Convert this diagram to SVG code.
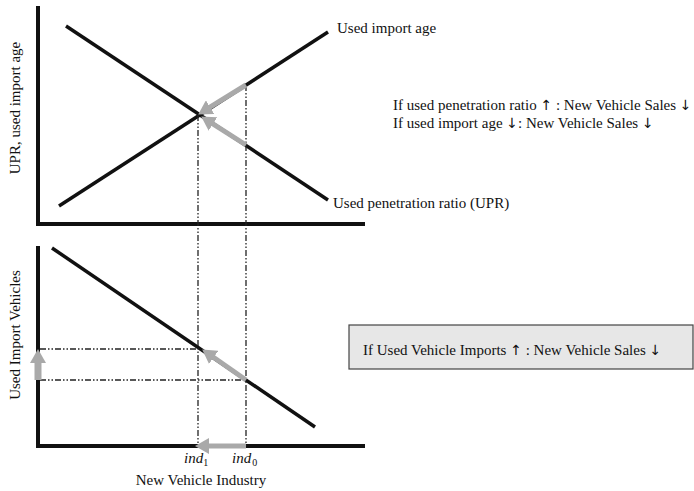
<svg xmlns="http://www.w3.org/2000/svg" width="694" height="491" viewBox="0 0 694 491">
<defs>
<marker id="gh" markerUnits="userSpaceOnUse" markerWidth="15" markerHeight="16" refX="2" refY="8" orient="auto" viewBox="0 0 15 16">
<path d="M0,0 L14,8 L0,16 z" fill="#a9a9a9"/>
</marker>
<style>
.ax{stroke:#111;stroke-width:4;fill:none;stroke-linecap:square}
.cv{stroke:#111;stroke-width:3.5;fill:none}
.dd{stroke:#222;stroke-width:1.3;fill:none;stroke-dasharray:6 2 1.5 2 1.5 2}
.ga{stroke:#a9a9a9;stroke-width:5;fill:none;marker-end:url(#gh)}
text{font-family:"Liberation Serif","Times New Roman",serif;font-size:15px;fill:#111}
.it{font-style:italic}
.ar{font-family:"DejaVu Sans",sans-serif;font-size:14px}
</style>
</defs>
<rect width="694" height="491" fill="#fff"/>
<g id="top-panel">
<path class="ax" d="M38,8 V224 H363"/>
<line class="cv" x1="66" y1="26" x2="328" y2="200"/>
<line class="cv" x1="59" y1="206" x2="328" y2="32"/>
</g>
<g id="bottom-panel">
<path class="ax" d="M38,248 V446 H363"/>
<line class="cv" x1="52" y1="248" x2="315" y2="427"/>
</g>
<g id="connectors">
<line class="dd" x1="198" y1="115" x2="198" y2="446"/>
<line class="dd" x1="246" y1="85" x2="246" y2="446"/>
<line class="dd" x1="40" y1="349" x2="198" y2="349"/>
<line class="dd" x1="40" y1="380" x2="246" y2="380"/>
<line class="ga" x1="246" y1="85" x2="208.4" y2="108.2"/>
<line class="ga" x1="246" y1="145" x2="211.3" y2="122.9"/>
<line class="ga" x1="246" y1="380" x2="212" y2="356.3"/>
<line class="ga" x1="38" y1="380" x2="38" y2="361" style="stroke-width:7"/>
<line class="ga" x1="246" y1="446" x2="207" y2="446"/>
</g>
<g id="labels">
<text x="337" y="33">Used import age</text>
<text x="333" y="208">Used penetration ratio (UPR)</text>
<text transform="translate(20,108) rotate(-90)" text-anchor="middle">UPR, used import age</text>
<text transform="translate(20,335) rotate(-90)" text-anchor="middle">Used Import Vehicles</text>
<text x="393" y="110">If used penetration ratio <tspan class="ar">↑</tspan> : New Vehicle Sales <tspan class="ar">↓</tspan></text>
<text x="393" y="128">If used import age <tspan class="ar">↓</tspan>: New Vehicle Sales <tspan class="ar">↓</tspan></text>
<text x="184" y="463"><tspan class="it">ind</tspan><tspan font-size="10" dy="3">1</tspan></text>
<text x="232" y="463"><tspan class="it">ind</tspan><tspan font-size="10" dx="1" dy="3">0</tspan></text>
<text x="201" y="485" text-anchor="middle">New Vehicle Industry</text>
</g>
<g id="note-box">
<rect x="349" y="325" width="344" height="44" fill="#e7e7e7" stroke="#444" stroke-width="1.2"/>
<text x="363" y="355">If Used Vehicle Imports <tspan class="ar">↑</tspan> : New Vehicle Sales <tspan class="ar">↓</tspan></text>
</g>
</svg>
